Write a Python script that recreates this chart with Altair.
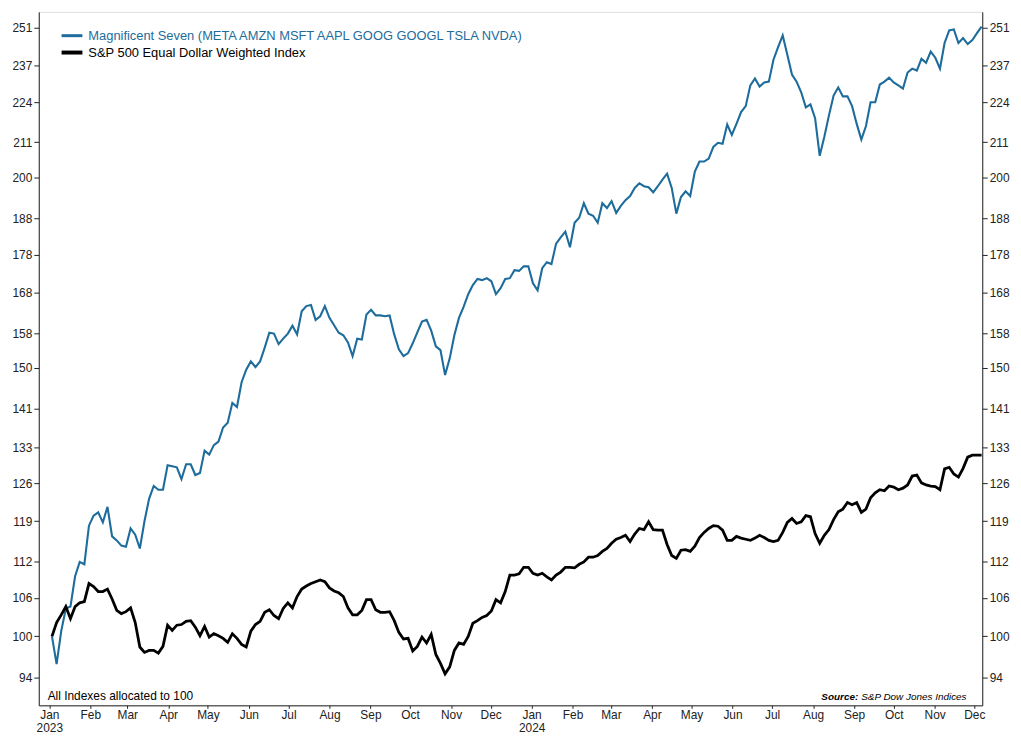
import altair as alt
import pandas as pd

MAG7_NAME = "Magnificent Seven (META AMZN MSFT AAPL GOOG GOOGL TSLA NVDA)"
EW_NAME = "S&P 500 Equal Dollar Weighted Index"

# twice-weekly observations starting 2023-01-03 (every 3.5 days)
START = "2023-01-03"

mag7 = [100.0, 95.9, 100.8, 104.3, 104.6, 109.5, 111.9, 111.5, 118.2, 120.0,
        120.6, 118.8, 121.6, 116.3, 115.6, 114.7, 114.5, 117.7, 116.6, 114.2,
        119.0, 123.1, 125.5, 124.8, 124.8, 129.5, 129.3, 129.1, 126.8, 129.7,
        129.7, 127.6, 128.0, 132.4, 131.6, 133.5, 134.2, 137.1, 138.1, 142.3,
        141.4, 146.8, 149.6, 151.5, 150.2, 151.5, 154.7, 158.2, 158.0, 155.5,
        156.8, 158.0, 159.9, 157.8, 163.4, 164.7, 165.0, 161.3, 162.2, 164.7,
        161.8, 160.0, 158.2, 157.6, 155.9, 152.7, 156.8, 156.6, 162.6, 163.8,
        162.4, 162.4, 162.2, 162.4, 157.8, 154.3, 152.7, 153.4, 155.7, 158.3,
        160.9, 161.3, 158.7, 155.0, 154.1, 148.4, 152.2, 157.6, 161.8, 164.5,
        167.7, 170.0, 171.6, 171.3, 171.8, 171.0, 167.7, 169.2, 171.6, 171.8,
        173.9, 173.7, 174.9, 174.9, 170.5, 168.7, 174.4, 176.0, 175.5, 181.0,
        182.7, 184.3, 180.0, 186.8, 188.2, 192.4, 189.4, 188.8, 186.8, 192.4,
        191.0, 193.0, 189.6, 191.6, 193.3, 194.5, 196.9, 198.3, 197.4, 197.1,
        195.6, 197.4, 199.4, 201.2, 196.9, 189.4, 194.2, 195.9, 194.5, 201.8,
        204.9, 204.9, 205.8, 209.5, 210.8, 210.5, 216.7, 213.3, 216.9, 220.8,
        222.8, 229.9, 232.3, 229.5, 230.9, 231.2, 239.0, 243.6, 247.9, 240.8,
        233.7, 231.2, 227.5, 222.4, 223.4, 218.8, 206.7, 212.7, 219.7, 226.4,
        229.2, 226.1, 226.1, 222.8, 216.9, 211.8, 216.2, 224.1, 224.1, 230.2,
        231.2, 232.6, 230.9, 229.9, 228.8, 234.4, 235.8, 235.1, 239.3, 237.9,
        241.9, 239.7, 235.8, 245.1, 249.8, 250.2, 245.1, 246.9, 244.7, 246.2,
        248.8, 251.2]

ew = [100.0, 102.1, 103.3, 104.6, 102.7, 104.6, 105.2, 105.4, 108.3, 107.8,
      107.0, 107.0, 107.4, 105.8, 104.0, 103.5, 103.8, 104.4, 102.1, 98.4,
      97.6, 97.9, 97.9, 97.5, 98.5, 101.7, 100.9, 101.7, 101.8, 102.3,
      102.4, 101.4, 100.1, 101.5, 99.9, 100.4, 100.1, 99.7, 99.1, 100.4,
      99.7, 98.8, 98.4, 100.8, 101.8, 102.3, 103.7, 104.1, 103.2, 102.7,
      104.3, 105.2, 104.4, 106.2, 107.4, 107.9, 108.3, 108.6, 108.9, 108.6,
      107.6, 107.1, 106.8, 106.2, 104.4, 103.3, 103.3, 104.0, 105.7, 105.7,
      104.1, 103.7, 103.7, 103.8, 102.4, 100.6, 99.6, 99.7, 97.8, 98.5,
      99.9, 99.0, 100.3, 97.3, 96.0, 94.5, 95.5, 97.9, 99.0, 98.8,
      100.0, 102.0, 102.4, 102.9, 103.2, 103.9, 105.7, 105.2, 107.0, 109.7,
      109.7, 109.9, 111.0, 111.0, 110.0, 109.7, 110.0, 109.4, 108.9, 109.7,
      110.2, 111.0, 111.0, 110.9, 111.5, 111.9, 112.7, 112.7, 113.0, 113.7,
      114.2, 115.1, 115.8, 116.1, 116.5, 115.4, 116.7, 117.7, 117.5, 118.9,
      117.5, 117.4, 117.4, 114.9, 113.0, 112.5, 113.9, 114.0, 113.7, 114.6,
      116.1, 117.0, 117.7, 118.2, 118.1, 117.4, 115.6, 115.6, 116.3, 116.0,
      115.8, 115.6, 116.0, 116.5, 116.1, 115.6, 115.4, 115.6, 117.0, 118.8,
      119.5, 118.6, 118.9, 120.0, 119.8, 116.8, 115.1, 116.5, 117.5, 119.3,
      120.7, 121.2, 122.4, 122.0, 122.4, 120.6, 121.2, 123.3, 124.2, 124.8,
      124.6, 125.5, 125.3, 124.8, 125.1, 125.7, 127.4, 127.6, 126.1, 125.7,
      125.5, 125.4, 124.8, 128.8, 129.1, 127.8, 127.2, 128.9, 131.1, 131.5,
      131.5, 131.5]

y_ticks = [94, 100, 106, 112, 119, 126, 133, 141, 150, 158, 168, 178, 188,
           200, 211, 224, 237, 251]
month_ticks = pd.date_range("2023-01-01", "2024-12-01", freq="MS")

BLUE = "#1d6c9c"
DARK = "#222222"
FONT = "Liberation Sans"

dates = pd.date_range(START, periods=len(mag7), freq="84h")
df_m = pd.DataFrame({"date": dates, "value": mag7})
df_e = pd.DataFrame({"date": dates, "value": ew})
one = pd.DataFrame({"k": [0]})

x_enc = alt.X(
    "date:T",
    scale=alt.Scale(domain=[alt.DateTime(year=2022, month=12, date=24),
                            alt.DateTime(year=2024, month=12, date=7)]),
    axis=alt.Axis(
        values=[alt.DateTime(year=d.year, month=d.month, date=1) for d in month_ticks],
        labelExpr="month(datum.value) == 0 ? [timeFormat(datum.value, '%b'), timeFormat(datum.value, '%Y')] : timeFormat(datum.value, '%b')",
        title=None, grid=False, tickSize=3, labelPadding=1,
        labelFont=FONT, labelFontSize=12, labelColor=DARK,
        labelAngle=0, labelAlign="center", labelBaseline="top", labelLineHeight=13,
        domainColor=DARK, tickColor=DARK, labelOverlap=False,
    ),
)

y_scale = alt.Scale(type="log", domain=[90.1, 256.9], nice=False)


def y_axis(orient):
    return alt.Axis(
        orient=orient, values=y_ticks, format="d", title=None, grid=False,
        tickSize=5, labelPadding=2, labelFont=FONT, labelFontSize=12,
        labelColor=DARK, domainColor=DARK, tickColor=DARK, labelOverlap=False,
    )


blue_line = alt.Chart(df_m).mark_line(color=BLUE, strokeWidth=2.1).encode(
    x=x_enc, y=alt.Y("value:Q", scale=y_scale, axis=y_axis("left"))
)
black_line = alt.Chart(df_e).mark_line(color="black", strokeWidth=2.8).encode(
    x=x_enc, y=alt.Y("value:Q", scale=y_scale, axis=y_axis("right"))
)

leg_rule1 = alt.Chart(one).mark_rule(color=BLUE, strokeWidth=3).encode(
    x=alt.value(23), x2=alt.value(44), y=alt.value(24))
leg_text1 = alt.Chart(one).mark_text(
    align="left", baseline="middle", color=BLUE, font=FONT, fontSize=13).encode(
    x=alt.value(50), y=alt.value(24), text=alt.value(MAG7_NAME))
leg_rule2 = alt.Chart(one).mark_rule(color="black", strokeWidth=4).encode(
    x=alt.value(23), x2=alt.value(44), y=alt.value(41))
leg_text2 = alt.Chart(one).mark_text(
    align="left", baseline="middle", color="black", font=FONT, fontSize=13).encode(
    x=alt.value(50), y=alt.value(41), text=alt.value(EW_NAME))

note = alt.Chart(one).mark_text(
    align="left", baseline="middle", color="black", font=FONT, fontSize=12).encode(
    x=alt.value(9), y=alt.value(690), text=alt.value("All Indexes allocated to 100"))
src1 = alt.Chart(one).mark_text(
    align="right", baseline="middle", color="black", fontStyle="italic",
    fontWeight="bold", font=FONT, fontSize=10).encode(
    x=alt.value(826), y=alt.value(691), text=alt.value("Source:"))
src2 = alt.Chart(one).mark_text(
    align="left", baseline="middle", color="black", fontStyle="italic",
    font=FONT, fontSize=10).encode(
    x=alt.value(829), y=alt.value(691), text=alt.value("S&P Dow Jones Indices"))

chart = alt.layer(
    blue_line, black_line, leg_rule1, leg_text1, leg_rule2, leg_text2, note, src1, src2
).resolve_axis(y="independent").properties(
    width=951, height=699,
    autosize=alt.AutoSizeParams(type="none"),
    padding={"left": 31, "top": 1, "right": 31, "bottom": 28},
).configure_view(stroke=DARK, strokeWidth=1).configure(background="white")

chart.save("out.html", embed_options={"renderer": "svg", "actions": False})
